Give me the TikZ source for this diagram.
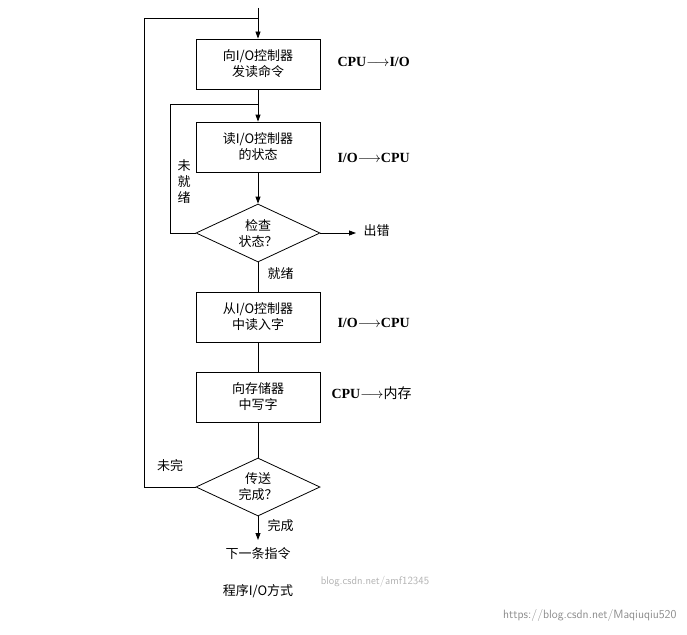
\documentclass[tikz,border=0pt]{standalone}
\usepackage{fontspec}
\newfontfamily\cjk{Noto Sans CJK SC}
\setmainfont{Liberation Serif}
\usetikzlibrary{shapes.geometric,arrows.meta}
\newcommand{\myarr}{{\fontsize{15}{18}\selectfont$\longrightarrow$}}
\begin{document}
\begin{tikzpicture}[x=1pt,y=-1pt,
  box/.style={draw,line width=0.8pt,minimum width=124pt,minimum height=50pt,align=center,font=\cjk\fontsize{13}{16}\selectfont},
  dia/.style={draw,line width=0.8pt,diamond,aspect=2.2,minimum width=124pt,minimum height=58pt,inner sep=0pt,align=center,font=\cjk\fontsize{13}{16}\selectfont},
  lab/.style={font=\cjk\fontsize{13}{16}\selectfont},
  eng/.style={font=\bfseries\fontsize{14}{18}\selectfont},
  ln/.style={line width=0.8pt},
  ar/.style={ln,-{Triangle[length=7pt,width=5pt]}}]
\useasboundingbox (0,0) rectangle (687,634);
\node[box] (b1) at (258,64) {向I/O控制器\\发读命令};
\node[box] (b2) at (258,147) {读I/O控制器\\的状态};
\node[dia] (d1) at (258,233) {检查\\状态？};
\node[box] (b3) at (258,317) {从I/O控制器\\中读入字};
\node[box] (b4) at (258,397) {向存储器\\中写字};
\node[dia] (d2) at (258,487) {传送\\完成？};
\coordinate (top) at (258,8);
\coordinate (n1) at (258,18);
\coordinate (n2) at (258,104);
\coordinate (err) at (356,233);
\coordinate (end) at (258,540);
\draw[ar] (top) -- (b1);
\draw[ar] (b1) -- (b2);
\draw[ar] (b2) -- (d1);
\draw[ln] (d1) -- (b3);
\draw[ln] (b3) -- (b4);
\draw[ln] (b4) -- (d2);
\draw[ar] (d2) -- (end);
\draw[ar] (d1.east) -- (err);
\draw[ln] (d1.west) -- (170,233) -- (170,104) -- (n2);
\draw[ln] (d2.west) -- (144,487) -- (144,18) -- (n1);
\node[eng,anchor=west] at (334,62) {CPU\myarr I/O};
\node[eng,anchor=west] at (334,158) {I/O\myarr CPU};
\node[eng,anchor=west] at (334,323) {I/O\myarr CPU};
\node[eng,anchor=west] at (328,393) {CPU\myarr{\cjk\mdseries\fontsize{14}{16}\selectfont 内存}};
\node[lab,anchor=west] at (360,231) {出错};
\node[lab,align=center] at (184,182) {未\\就\\绪};
\node[lab,anchor=west] at (264,274) {就绪};
\node[lab] at (170,466) {未完};
\node[lab,anchor=west] at (264,526) {完成};
\node[lab] at (258,554) {下一条指令};
\node[lab] at (258,591) {程序I/O方式};
\node[font=\fontsize{11}{13}\selectfont\sffamily,text=black!30] at (375,582) {blog.csdn.net/amf12345};
\node[font=\fontsize{12}{14}\selectfont\sffamily,text=black!45,anchor=east] at (680,615) {https://blog.csdn.net/Maqiuqiu520};
\end{tikzpicture}
\end{document}
